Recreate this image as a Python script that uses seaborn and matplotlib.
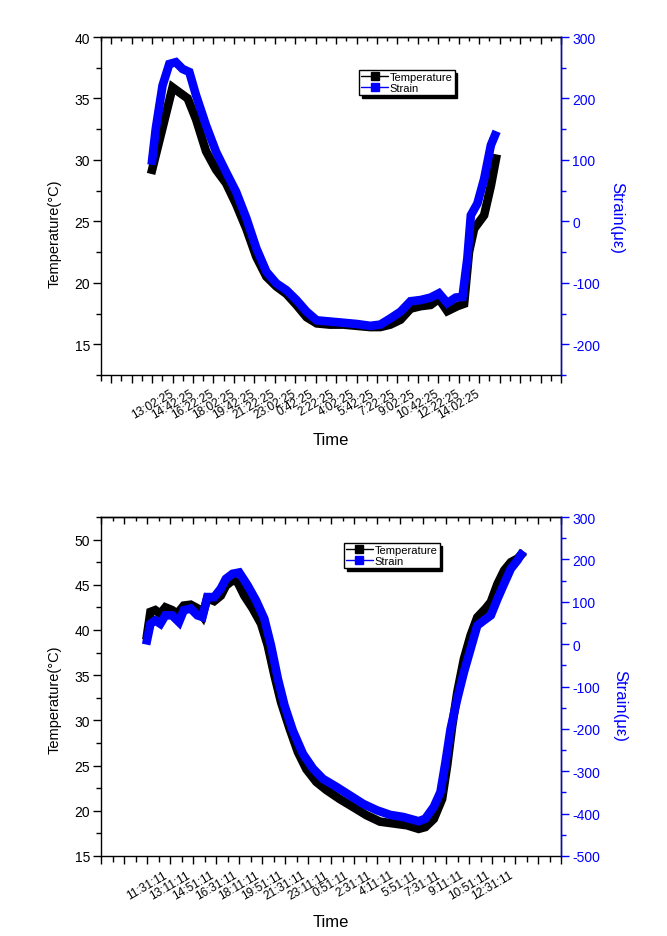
import numpy as np
import pandas as pd
import matplotlib
matplotlib.use("Agg")
import matplotlib.pyplot as plt
import seaborn as sns
from matplotlib.ticker import FixedLocator, MultipleLocator
from matplotlib.lines import Line2D

# ---------------- data (time in minutes from first sample) ----------------
top_T_time = [0, 100, 133, 174, 215, 264, 313, 362, 411, 461, 510, 559, 608, 657, 706, 756, 805, 870,
              936, 1001, 1067, 1116, 1165, 1215, 1264, 1313, 1362, 1403, 1444, 1493, 1526, 1550, 1575,
              1624, 1657, 1682]
top_T = [29.2, 35.9, 35.5, 35.0, 33.3, 30.7, 29.2, 28.1, 26.4, 24.4, 22.1, 20.5, 19.7, 19.1, 18.2, 17.2,
         16.7, 16.6, 16.6, 16.5, 16.4, 16.4, 16.6, 17.0, 17.9, 18.1, 18.2, 18.7, 17.7, 18.1, 18.3, 22.5,
         24.4, 25.5, 27.9, 30.1]
top_S_time = [0, 18, 51, 84, 116, 149, 182, 215, 264, 313, 362, 411, 461, 510, 559, 608, 657, 706, 756,
              805, 870, 936, 1001, 1067, 1116, 1165, 1215, 1264, 1313, 1362, 1403, 1444, 1485, 1518, 1542,
              1559, 1591, 1624, 1657, 1677]
top_S = [99, 151, 221, 256, 259, 248, 243, 205, 156, 113, 80, 48, 5, -44, -82, -101, -112, -128, -147,
         -161, -163, -165, -167, -170, -168, -158, -147, -130, -128, -124, -117, -133, -124, -123, -60,
         10, 29, 69, 124, 140]
top_tick_labels = ["13:02:25", "14:42:25", "16:22:25", "18:02:25", "19:42:25", "21:22:25", "23:02:25",
                   "0:42:25", "2:22:25", "4:02:25", "5:42:25", "7:22:25", "9:02:25", "10:42:25",
                   "12:22:25", "14:02:25"]

bot_T_time = [0, 15, 36, 58, 80, 109, 131, 160, 190, 219, 241, 262, 292, 321, 343, 372, 394, 423, 459,
              496, 525, 554, 583, 620, 656, 693, 736, 780, 838, 897, 955, 1013, 1072, 1130, 1181, 1210,
              1247, 1283, 1305, 1327, 1349, 1378, 1407, 1436, 1473, 1495, 1524, 1553, 1582, 1611, 1626]
bot_T = [39.4, 42.0, 42.2, 41.8, 42.5, 42.2, 41.8, 42.7, 42.8, 42.4, 41.6, 43.5, 43.2, 43.8, 44.9, 45.5,
         45.3, 43.8, 42.4, 40.7, 38.3, 35.0, 32.0, 29.1, 26.5, 24.6, 23.2, 22.3, 21.3, 20.4, 19.5, 18.8,
         18.6, 18.4, 18.0, 18.2, 19.1, 21.3, 25.0, 29.4, 33.1, 36.8, 39.4, 41.4, 42.4, 43.1, 45.1, 46.6,
         47.5, 47.9, 48.3]
bot_S_time = [0, 15, 36, 58, 80, 109, 139, 160, 190, 219, 241, 262, 292, 321, 343, 372, 401, 437, 474,
              510, 539, 569, 598, 634, 678, 722, 765, 824, 882, 940, 999, 1057, 1115, 1181, 1210, 1247,
              1276, 1298, 1320, 1349, 1378, 1407, 1436, 1465, 1495, 1524, 1553, 1582, 1611, 1626]
bot_S = [9, 48, 56, 48, 68, 68, 52, 80, 84, 68, 64, 111, 111, 131, 154, 166, 169, 139, 103, 60, -3, -82,
         -145, -204, -259, -294, -318, -337, -357, -377, -392, -403, -408, -418, -412, -384, -349, -278,
         -200, -129, -66, -11, 44, 56, 68, 107, 143, 178, 198, 211]
bot_tick_labels = ["11:31:11", "13:11:11", "14:51:11", "16:31:11", "18:11:11", "19:51:11", "21:31:11",
                   "23:11:11", "0:51:11", "2:31:11", "4:11:11", "5:51:11", "7:31:11", "9:11:11",
                   "10:51:11", "12:31:11"]

# ---------------- style ----------------
sns.set_theme(style="white")
plt.rcParams["font.family"] = ["Liberation Sans", "DejaVu Sans"]
plt.rcParams["axes.linewidth"] = 1.0
plt.rcParams["axes.unicode_minus"] = False
plt.rcParams["text.color"] = "black"
plt.rcParams["xtick.color"] = "black"
plt.rcParams["ytick.color"] = "black"
plt.rcParams["axes.labelcolor"] = "black"

fig = plt.figure(figsize=(6.67, 9.37), dpi=100)
W, H = 667, 937
BLUE = "#0000ff"


def make_panel(rect, T_time, T, S_time, S, labels, xlim, tlim, tmaj, smin_max, smaj,
               legend_anchor, tlabel_y, slabel_pos):
    ax = fig.add_axes(rect)
    dfT = pd.DataFrame({"t": T_time, "v": T})
    dfS = pd.DataFrame({"t": S_time, "v": S})
    lw = 6.2
    sns.lineplot(data=dfT, x="t", y="v", ax=ax, color="black", lw=lw, sort=False,
                 solid_capstyle="projecting", solid_joinstyle="miter", legend=False)
    ax2 = ax.twinx()
    sns.lineplot(data=dfS, x="t", y="v", ax=ax2, color=BLUE, lw=lw, sort=False,
                 solid_capstyle="projecting", solid_joinstyle="miter", legend=False)

    ax.set_xlim(*xlim)
    ax.set_ylim(*tlim)
    ax2.set_ylim(*smin_max)

    # x ticks
    majors = list(range(-200, xlim[1] + 1, 100))
    lab_pos = [100 * i for i in range(len(labels))]
    tick_text = [labels[lab_pos.index(m)] if m in lab_pos else "" for m in majors]
    ax.xaxis.set_major_locator(FixedLocator(majors))
    ax.set_xticklabels(tick_text, rotation=30, ha="center", va="top", fontsize=8.6,
                       color="black")
    ax.xaxis.set_minor_locator(MultipleLocator(50))
    ax.tick_params(axis="x", which="both", bottom=True, top=False, direction="out",
                   color="black", pad=3)
    ax.tick_params(axis="x", which="major", length=6, width=1)
    ax.tick_params(axis="x", which="minor", length=4, width=1)

    sec = ax.secondary_xaxis("top")
    sec.xaxis.set_major_locator(FixedLocator(majors))
    sec.xaxis.set_minor_locator(MultipleLocator(50))
    sec.tick_params(which="both", direction="in", labeltop=False, color="black")
    sec.tick_params(which="major", length=5, width=1)
    sec.tick_params(which="minor", length=3, width=1)
    sec.spines["top"].set_color("black")

    # left y
    ax.yaxis.set_major_locator(MultipleLocator(tmaj))
    ax.yaxis.set_minor_locator(MultipleLocator(tmaj / 2))
    ax.tick_params(axis="y", which="both", left=True, direction="out", labelsize=10,
                   color="black", labelcolor="black", pad=2)
    ax.tick_params(axis="y", which="major", length=6, width=1)
    ax.tick_params(axis="y", which="minor", length=3.5, width=1)

    # right y
    ax2.yaxis.set_major_locator(MultipleLocator(smaj))
    ax2.yaxis.set_minor_locator(MultipleLocator(smaj / 2))
    ax2.tick_params(axis="y", which="both", right=True, direction="out", labelsize=10,
                    color=BLUE, labelcolor=BLUE, pad=2)
    ax2.tick_params(axis="y", which="major", length=6, width=1)
    ax2.tick_params(axis="y", which="minor", length=3.5, width=1)
    for sp in ["left", "top", "bottom"]:
        ax2.spines[sp].set_visible(False)
    ax2.spines["right"].set_color(BLUE)
    for sp in ["left", "top", "bottom", "right"]:
        ax.spines[sp].set_color("black")

    ax.set_xlabel("Time", fontsize=12, color="black")
    ax.xaxis.set_label_coords(0.5, -0.17)
    ax.set_ylabel("Temperature(\u00b0C)", fontsize=10.5, color="black", ha="center", va="center")
    ax.yaxis.set_label_coords(-0.1, tlabel_y)
    ax2.set_ylabel("Strain(\u03bc\u03b5)", fontsize=12, color=BLUE, rotation=270,
                   ha="center", va="center")
    ax2.yaxis.set_label_coords(*slabel_pos)

    handles = [Line2D([], [], color="black", lw=1, marker="s", markersize=6),
               Line2D([], [], color=BLUE, lw=1, marker="s", markersize=6)]
    leg = ax2.legend(handles, ["Temperature", "Strain"], loc="upper left",
                     bbox_to_anchor=legend_anchor, borderaxespad=0, fontsize=8,
                     frameon=True, fancybox=False, handlelength=2.4, handletextpad=0.15,
                     labelspacing=0.05, borderpad=0.2,
                     shadow={"color": "black", "alpha": 1.0})
    leg.get_frame().set_edgecolor("black")
    leg.get_frame().set_linewidth(1.0)
    for txt in leg.get_texts():
        txt.set_color("black")
    return ax, ax2


# top panel: axes from x 101..561, y 38..376 px
make_panel([101 / W, 1 - 376 / H, 460 / W, 338 / H],
           top_T_time, top_T, top_S_time, top_S, top_tick_labels,
           (-250, 2000), (12.5, 40), 5, (-250, 300), 100,
           (0.561, 0.902), 0.42, (1.122, 0.467))

# bottom panel: axes from x 101..561, y 518..857 px
make_panel([101 / W, 1 - 857 / H, 460 / W, 339 / H],
           bot_T_time, bot_T, bot_S_time, bot_S, bot_tick_labels,
           (-200, 1800), (15, 52.5), 5, (-500, 300), 100,
           (0.528, 0.923), 0.463, (1.128, 0.445))

fig.savefig("out.png", dpi=100)
